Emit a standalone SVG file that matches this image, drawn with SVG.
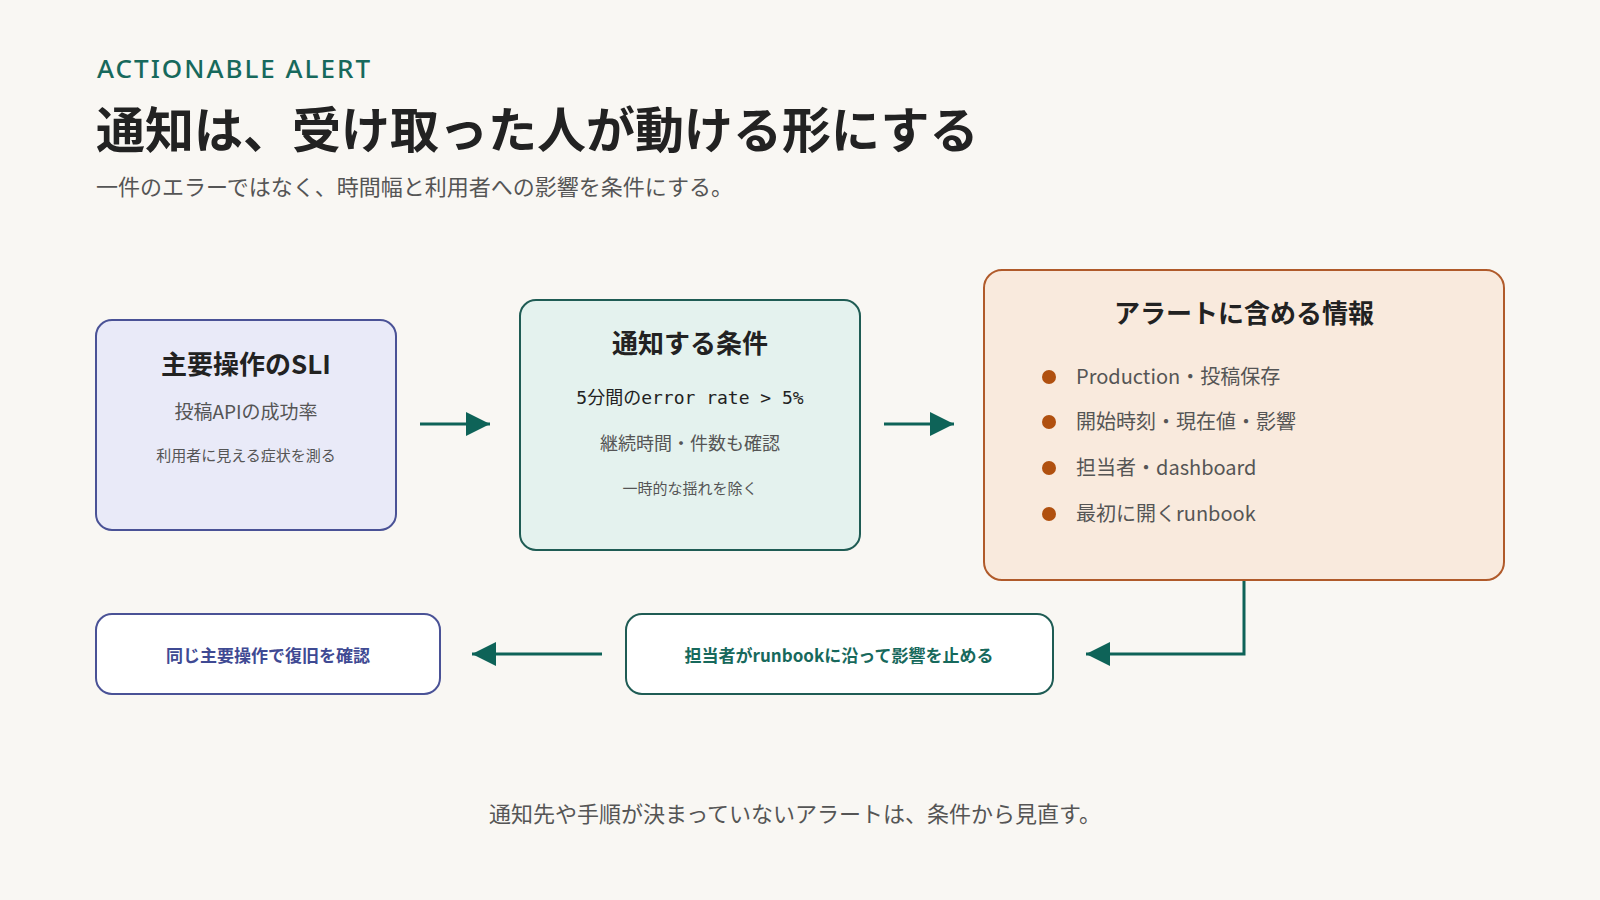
<svg xmlns="http://www.w3.org/2000/svg" width="1600" height="900" viewBox="0 0 1600 900">
<defs>
<style>
text{font-family:"Noto Sans CJK JP","Noto Sans",sans-serif}
.t{font-weight:700;fill:#222;font-size:26px;text-anchor:middle}
.m{fill:#555;text-anchor:middle}
.b{fill:#555;font-size:20px}
.c{stroke:#0e6358;stroke-width:3;fill:none}
.mono{font-family:"DejaVu Sans Mono","Noto Sans CJK JP",monospace}
</style>
<marker id="ah" viewBox="0 0 10 10" refX="9" refY="5" markerWidth="8" markerHeight="8" markerUnits="userSpaceOnUse" orient="auto"><path d="M0,0L10,5L0,10z" fill="#0e6358"/></marker>
<marker id="a" viewBox="0 0 10 10" refX="10" refY="5" markerWidth="8" markerHeight="8" orient="auto"><path d="M0,0L10,5L0,10z" fill="#0e6358"/></marker>
</defs>
<rect width="1600" height="900" fill="#f9f7f3"/>
<text x="97" y="78" font-size="26" fill="#17695c" letter-spacing="2" font-family="Noto Sans" style="font-family:'Noto Sans',sans-serif;font-weight:500">ACTIONABLE ALERT</text>
<text x="96" y="148" font-size="49" font-weight="700" fill="#222">通知は、受け取った人が動ける形にする</text>
<text x="96" y="195" font-size="22" fill="#555">一件のエラーではなく、時間幅と利用者への影響を条件にする。</text>
<g id="connectors">
<path class="c" d="M420,424H490" marker-end="url(#a)"/>
<path class="c" d="M884,424H954" marker-end="url(#a)"/>
<path class="c" d="M1244,580V654H1086" marker-end="url(#a)"/>
<path class="c" d="M602,654H472" marker-end="url(#a)"/>
</g>
<g id="sli">
<rect x="96" y="320" width="300" height="210" rx="16" fill="#e9eaf8" stroke="#4a5296" stroke-width="2"/>
<text class="t" x="246" y="374">主要操作のSLI</text>
<text class="m" x="246" y="419" font-size="19">投稿APIの成功率</text>
<text class="m" x="246" y="461" font-size="15">利用者に見える症状を測る</text>
</g>
<g id="cond">
<rect x="520" y="300" width="340" height="250" rx="16" fill="#e4f2ee" stroke="#1f5c54" stroke-width="2"/>
<text class="t" x="690" y="353">通知する条件</text>
<text class="m mono" x="690" y="404" font-size="18" fill="#222" style="fill:#222">5分間のerror rate &gt; 5%</text>
<text class="m" x="690" y="450" font-size="18">継続時間・件数も確認</text>
<text class="m" x="690" y="494" font-size="15">一時的な揺れを除く</text>
</g>
<g id="info">
<rect x="984" y="270" width="520" height="310" rx="18" fill="#f9eadd" stroke="#b05a2a" stroke-width="2"/>
<text class="t" x="1244" y="323">アラートに含める情報</text>
<g fill="#b0500f"><circle cx="1049" cy="377" r="7"/><circle cx="1049" cy="422" r="7"/><circle cx="1049" cy="468" r="7"/><circle cx="1049" cy="514" r="7"/></g>
<text class="b" x="1076" y="384">Production・投稿保存</text>
<text class="b" x="1076" y="429">開始時刻・現在値・影響</text>
<text class="b" x="1076" y="475">担当者・dashboard</text>
<text class="b" x="1076" y="521">最初に開くrunbook</text>
</g>
<g id="act">
<rect x="626" y="614" width="427" height="80" rx="16" fill="#fff" stroke="#1f5c54" stroke-width="2"/>
<text x="839" y="662" font-size="17" font-weight="700" fill="#17695c" text-anchor="middle">担当者がrunbookに沿って影響を止める</text>
</g>
<g id="verify">
<rect x="96" y="614" width="344" height="80" rx="16" fill="#fff" stroke="#4a5296" stroke-width="2"/>
<text x="268" y="662" font-size="17" font-weight="700" fill="#3f4a93" text-anchor="middle">同じ主要操作で復旧を確認</text>
</g>
<text x="795" y="822" font-size="22" fill="#555" text-anchor="middle">通知先や手順が決まっていないアラートは、条件から見直す。</text>
</svg>
